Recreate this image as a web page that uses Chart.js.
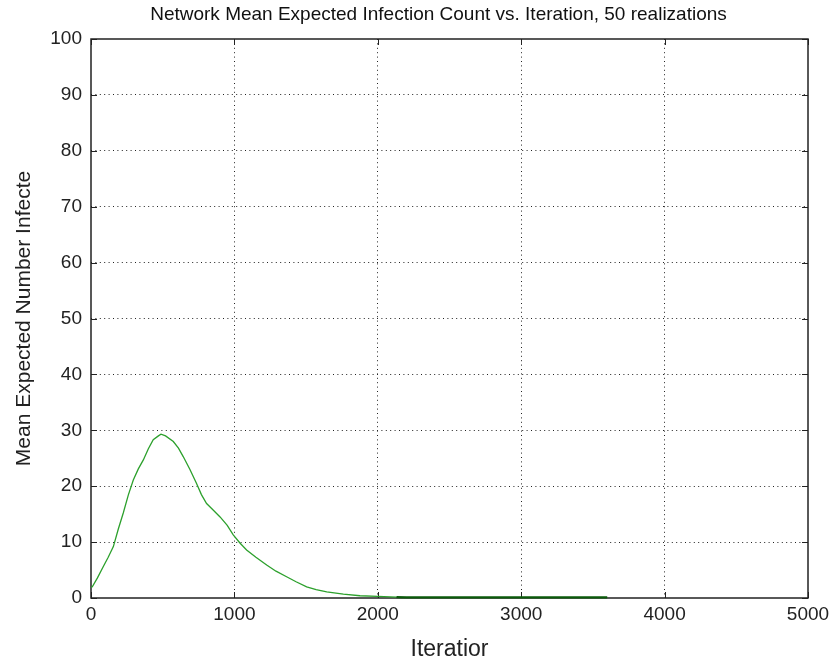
<!DOCTYPE html>
<html lang="en">
<head>
  <meta charset="UTF-8">
  <title>Network Mean Expected Infection Count</title>
  <style>
    body { margin: 0; background: #fff; }
    #wrap { width: 831px; height: 666px; }
  </style>
  <script src="https://cdn.jsdelivr.net/npm/chart.js"></script>
</head>
<body>
  <div id="wrap">
    <canvas id="myChart" width="831" height="666"></canvas>
  </div>

  <script>
    // values
    const iterations = [0, 9, 45, 85, 120, 156, 190, 225, 260, 295, 330, 365, 400, 434, 470, 488, 520, 574, 610, 643, 690, 736, 770, 806, 850, 900, 950, 992, 1040, 1085, 1150, 1225, 1290, 1364, 1430, 1504, 1570, 1644, 1760, 1876, 2000, 2130, 2200, 2600, 3000, 3400, 3600];
    const meanInfected = [1.9, 2.0, 3.6, 5.6, 7.3, 9.2, 12.3, 15.2, 18.4, 21.1, 23.1, 24.7, 26.7, 28.3, 29.0, 29.3, 29.0, 28.0, 26.8, 25.3, 23.0, 20.5, 18.5, 16.9, 15.8, 14.5, 13.0, 11.3, 9.8, 8.6, 7.3, 5.9, 4.8, 3.8, 2.9, 2.0, 1.5, 1.1, 0.7, 0.4, 0.3, 0.15, 0.1, 0.1, 0.1, 0.1, 0.1];
    const xTicks = [0, 1000, 2000, 3000, 4000, 5000];
    const yTicks = [0, 10, 20, 30, 40, 50, 60, 70, 80, 90, 100];
    const chartTitle = 'Network Mean Expected Infection Count vs. Iteration, 50 realizations';

    const font = "'Liberation Sans', Arial, sans-serif";

    // box around plot, small inward tick marks and the title, like the original figure
    const boxPlugin = {
      id: 'box',
      beforeDatasetsDraw(chart) {
        const { ctx, chartArea: a, scales } = chart;
        ctx.save();
        ctx.strokeStyle = '#222';
        ctx.lineWidth = 1;
        ctx.beginPath();
        xTicks.forEach(v => {
          const px = Math.round(scales.x.getPixelForValue(v)) + 0.5;
          ctx.moveTo(px, a.bottom); ctx.lineTo(px, a.bottom - 6);
          ctx.moveTo(px, a.top); ctx.lineTo(px, a.top + 6);
        });
        yTicks.forEach(v => {
          const py = Math.round(scales.y.getPixelForValue(v)) + 0.5;
          ctx.moveTo(a.left, py); ctx.lineTo(a.left + 6, py);
          ctx.moveTo(a.right, py); ctx.lineTo(a.right - 6, py);
        });
        ctx.stroke();
        ctx.lineWidth = 1.5;
        ctx.strokeRect(a.left, a.top, a.right - a.left, a.bottom - a.top);

        // title sits a little left of the axes centre in the original
        ctx.fillStyle = '#111';
        ctx.font = '19px ' + font;
        ctx.textAlign = 'center';
        ctx.textBaseline = 'middle';
        ctx.fillText(chartTitle, a.left + (a.right - a.left) / 2 - 11, 15);
        ctx.restore();
      }
    };

    const ctx = document.getElementById('myChart').getContext('2d');
    new Chart(ctx, {
      type: 'line',
      data: {
        datasets: [{
          label: 'Mean Expected Number Infected',
          data: iterations.map((x, i) => ({ x: x, y: meanInfected[i] })),
          borderColor: '#2ca02c',
          borderWidth: 1.3,
          pointRadius: 0,
          tension: 0,
          clip: 4,
          segment: {
            borderColor: c => c.p0.parsed.x >= 2130 ? '#0a5a0a' : '#2ca02c',
            borderWidth: c => c.p0.parsed.x >= 2130 ? 2.2 : 1.3
          }
        }]
      },
      options: {
        responsive: false,
        animation: false,
        layout: { padding: { left: 0, right: 23, top: 39, bottom: 0 } },
        plugins: {
          legend: { display: false },
          tooltip: { enabled: false },
          title: { display: false }
        },
        scales: {
          x: {
            type: 'linear',
            min: 0,
            max: 5000,
            afterBuildTicks: s => { s.ticks = xTicks.map(v => ({ value: v })); },
            afterFit: s => { s.height = 68; s.paddingRight = 0; s.paddingLeft = 0; },
            ticks: {
              color: '#222',
              font: { family: font, size: 19 },
              padding: 5,
              maxRotation: 0,
              callback: v => String(v)
            },
            grid: {
              color: c => (c.tick.value === 0 || c.tick.value === 5000) ? 'rgba(0,0,0,0)' : '#222',
              lineWidth: 1,
              drawTicks: false
            },
            border: { display: false, dash: [1, 3.4] },
            title: {
              display: true,
              text: 'Iteratior',
              color: '#222',
              font: { family: font, size: 23 },
              padding: { top: 0, bottom: 3 }
            }
          },
          y: {
            min: 0,
            max: 100,
            afterBuildTicks: s => { s.ticks = yTicks.map(v => ({ value: v })); },
            afterFit: s => { s.width = 91; s.paddingTop = 0; s.paddingBottom = 0; },
            ticks: {
              color: '#222',
              font: { family: font, size: 19 },
              padding: 9,
              callback: v => String(v)
            },
            grid: {
              color: c => (c.tick.value === 0 || c.tick.value === 100) ? 'rgba(0,0,0,0)' : '#222',
              lineWidth: 1,
              drawTicks: false
            },
            border: { display: false, dash: [1, 3.4] },
            title: {
              display: true,
              text: 'Mean Expected Number Infecte',
              color: '#222',
              font: { family: font, size: 21 },
              padding: { top: 12, bottom: 0 }
            }
          }
        }
      },
      plugins: [boxPlugin]
    });
  </script>
</body>
</html>
